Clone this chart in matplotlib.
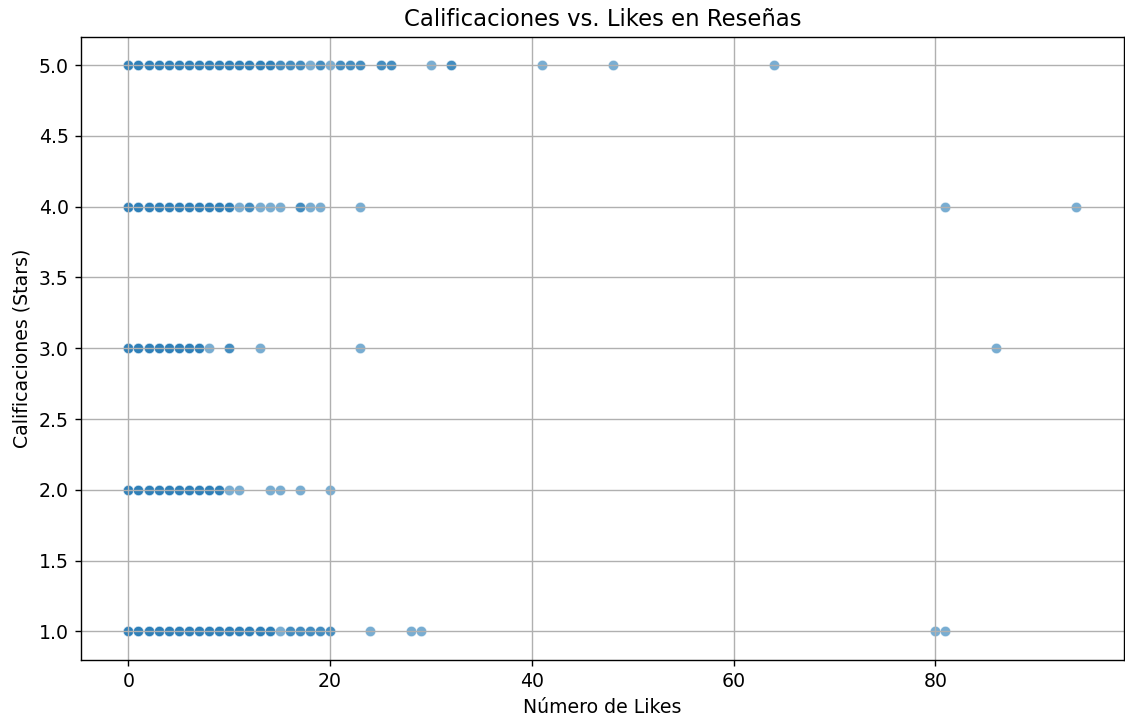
import numpy as np
import pandas as pd
import seaborn as sns
from matplotlib import pyplot as plt

# likes observados por calificacion y cuantas resenas repiten ese valor
likes_5 = [0, 1, 2, 3, 4, 5, 6, 7, 8, 9, 10, 11, 12, 13, 14, 15, 16, 17, 18, 19, 20, 21, 22, 23, 25, 26, 30, 32, 41, 48, 64]
cnt_5 = [3, 3, 3, 3, 3, 3, 3, 3, 3, 3, 3, 3, 3, 3, 3, 2, 2, 2, 1, 2, 1, 2, 2, 2, 2, 2, 1, 2, 1, 1, 1]

likes_4 = [0, 1, 2, 3, 4, 5, 6, 7, 8, 9, 10, 11, 12, 13, 14, 15, 17, 18, 19, 23, 81, 94]
cnt_4 = [3, 3, 3, 3, 3, 3, 3, 3, 3, 3, 3, 1, 2, 1, 1, 1, 2, 1, 1, 1, 1, 1]

likes_3 = [0, 1, 2, 3, 4, 5, 6, 7, 8, 10, 13, 23, 86]
cnt_3 = [3, 3, 3, 3, 3, 3, 3, 3, 1, 2, 1, 1, 1]

likes_2 = [0, 1, 2, 3, 4, 5, 6, 7, 8, 9, 10, 11, 14, 15, 17, 20]
cnt_2 = [3, 3, 3, 3, 3, 3, 3, 3, 3, 3, 1, 1, 1, 1, 1, 1]

likes_1 = [0, 1, 2, 3, 4, 5, 6, 7, 8, 9, 10, 11, 12, 13, 14, 15, 16, 17, 18, 19, 20, 24, 28, 29, 80, 81]
cnt_1 = [3, 3, 3, 3, 3, 3, 3, 3, 3, 3, 3, 3, 3, 3, 3, 1, 2, 2, 2, 2, 2, 1, 1, 1, 1, 1]

grupos = {5: (likes_5, cnt_5), 4: (likes_4, cnt_4), 3: (likes_3, cnt_3),
          2: (likes_2, cnt_2), 1: (likes_1, cnt_1)}

filas = []
for stars, (lk, ct) in grupos.items():
    for v in np.repeat(lk, ct):
        filas.append({"likesCount": v, "stars": float(stars)})
df = pd.DataFrame(filas)

fig = plt.figure(figsize=(9, 5.768), dpi=125)
ax = fig.add_axes([0.072, 0.085, 0.927, 0.864])
sns.scatterplot(data=df, x="likesCount", y="stars", alpha=0.6, ax=ax)
ax.set_title("Calificaciones vs. Likes en Reseñas", fontsize=13.1)
ax.set_xlabel("Número de Likes", fontsize=10.9)
ax.set_ylabel("Calificaciones (Stars)", fontsize=10.9)
ax.tick_params(labelsize=10.9)
ax.grid(True)
fig.savefig("out.png", dpi=125)
